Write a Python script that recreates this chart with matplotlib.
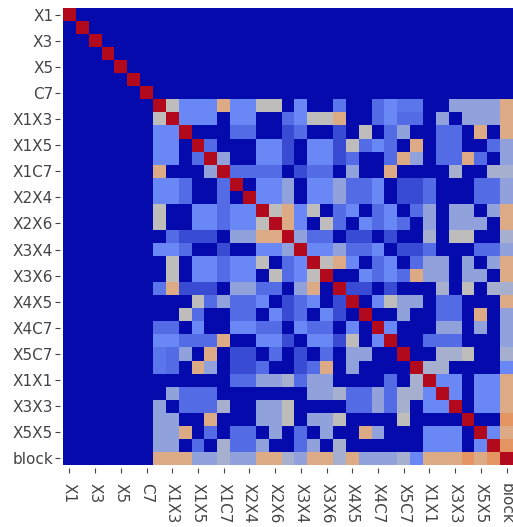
import numpy as np
import matplotlib
matplotlib.use("Agg")
import matplotlib.pyplot as plt
from matplotlib.colors import LinearSegmentedColormap

main_effects = ["X1", "X2", "X3", "X4", "X5", "X6", "C7"]
second_order = [
    "X1X2", "X1X3", "X1X4", "X1X5", "X1X6", "X1C7",
    "X2X3", "X2X4", "X2X5", "X2X6", "X2C7",
    "X3X4", "X3X5", "X3X6", "X3C7",
    "X4X5", "X4X6", "X4C7",
    "X5X6", "X5C7", "X6C7",
    "X1X1", "X2X2", "X3X3", "X4X4", "X5X5", "X6X6",
    "block",
]

# |correlation| between the second-order terms (rows/cols in second_order order)
second_order_corr = [
    [1.00, 0.50, 0.35, 0.35, 0.35, 0.60, 0.35, 0.35, 0.50, 0.50, 0.00, 0.35, 0.00, 0.00, 0.30, 0.00, 0.00, 0.27, 0.35, 0.30, 0.30, 0.00, 0.00, 0.42, 0.42, 0.42, 0.42, 0.60],
    [0.50, 1.00, 0.35, 0.35, 0.35, 0.00, 0.35, 0.35, 0.00, 0.00, 0.27, 0.35, 0.50, 0.50, 0.60, 0.00, 0.00, 0.27, 0.35, 0.27, 0.27, 0.00, 0.42, 0.00, 0.42, 0.42, 0.42, 0.60],
    [0.35, 0.35, 1.00, 0.00, 0.00, 0.00, 0.27, 0.27, 0.00, 0.00, 0.18, 0.27, 0.00, 0.00, 0.18, 0.00, 0.50, 0.00, 0.27, 0.42, 0.00, 0.00, 0.27, 0.27, 0.00, 0.60, 0.00, 0.60],
    [0.35, 0.35, 0.00, 1.00, 0.27, 0.00, 0.00, 0.00, 0.35, 0.35, 0.18, 0.00, 0.35, 0.35, 0.18, 0.50, 0.27, 0.35, 0.27, 0.00, 0.60, 0.00, 0.27, 0.27, 0.00, 0.00, 0.27, 0.42],
    [0.35, 0.35, 0.00, 0.27, 1.00, 0.42, 0.00, 0.00, 0.35, 0.35, 0.18, 0.00, 0.35, 0.35, 0.18, 0.27, 0.00, 0.00, 0.27, 0.60, 0.42, 0.00, 0.27, 0.27, 0.60, 0.27, 0.00, 0.42],
    [0.60, 0.00, 0.00, 0.00, 0.42, 1.00, 0.27, 0.27, 0.27, 0.27, 0.00, 0.18, 0.27, 0.27, 0.00, 0.42, 0.00, 0.00, 0.60, 0.00, 0.00, 0.00, 0.00, 0.46, 0.00, 0.00, 0.46, 0.46],
    [0.35, 0.35, 0.27, 0.00, 0.00, 0.27, 1.00, 0.00, 0.35, 0.35, 0.42, 0.00, 0.35, 0.35, 0.42, 0.27, 0.27, 0.35, 0.00, 0.18, 0.18, 0.27, 0.00, 0.00, 0.00, 0.27, 0.27, 0.42],
    [0.35, 0.35, 0.27, 0.00, 0.00, 0.27, 0.00, 1.00, 0.35, 0.35, 0.42, 0.00, 0.35, 0.35, 0.42, 0.27, 0.27, 0.35, 0.00, 0.18, 0.18, 0.27, 0.00, 0.00, 0.00, 0.27, 0.27, 0.42],
    [0.50, 0.00, 0.00, 0.35, 0.35, 0.27, 0.35, 0.35, 1.00, 0.50, 0.60, 0.35, 0.50, 0.00, 0.27, 0.35, 0.00, 0.27, 0.35, 0.00, 0.27, 0.42, 0.00, 0.42, 0.42, 0.00, 0.42, 0.60],
    [0.50, 0.00, 0.00, 0.35, 0.35, 0.27, 0.35, 0.35, 0.50, 1.00, 0.60, 0.35, 0.00, 0.50, 0.27, 0.00, 0.35, 0.27, 0.35, 0.27, 0.00, 0.42, 0.00, 0.42, 0.42, 0.42, 0.00, 0.60],
    [0.00, 0.27, 0.18, 0.18, 0.18, 0.00, 0.42, 0.42, 0.60, 0.60, 1.00, 0.42, 0.27, 0.27, 0.00, 0.18, 0.18, 0.00, 0.18, 0.00, 0.00, 0.46, 0.00, 0.50, 0.50, 0.00, 0.00, 0.46],
    [0.35, 0.35, 0.27, 0.00, 0.00, 0.18, 0.00, 0.00, 0.35, 0.35, 0.42, 1.00, 0.35, 0.35, 0.42, 0.27, 0.27, 0.35, 0.00, 0.18, 0.18, 0.27, 0.00, 0.00, 0.00, 0.27, 0.27, 0.42],
    [0.00, 0.50, 0.00, 0.35, 0.35, 0.27, 0.35, 0.35, 0.50, 0.00, 0.27, 0.35, 1.00, 0.50, 0.60, 0.35, 0.00, 0.27, 0.35, 0.00, 0.27, 0.42, 0.42, 0.00, 0.42, 0.00, 0.42, 0.60],
    [0.00, 0.50, 0.00, 0.35, 0.35, 0.27, 0.35, 0.35, 0.00, 0.50, 0.27, 0.35, 0.50, 1.00, 0.00, 0.00, 0.35, 0.27, 0.35, 0.27, 0.60, 0.42, 0.42, 0.00, 0.42, 0.42, 0.00, 0.60],
    [0.30, 0.60, 0.18, 0.18, 0.18, 0.00, 0.42, 0.42, 0.27, 0.27, 0.00, 0.42, 0.60, 0.00, 1.00, 0.18, 0.18, 0.00, 0.18, 0.00, 0.00, 0.00, 0.46, 0.00, 0.50, 0.00, 0.46, 0.46],
    [0.00, 0.00, 0.00, 0.50, 0.27, 0.42, 0.27, 0.27, 0.35, 0.00, 0.18, 0.27, 0.35, 0.00, 0.18, 1.00, 0.00, 0.35, 0.50, 0.42, 0.42, 0.00, 0.27, 0.27, 0.00, 0.00, 0.00, 0.60],
    [0.00, 0.00, 0.50, 0.27, 0.00, 0.00, 0.27, 0.27, 0.00, 0.35, 0.18, 0.27, 0.00, 0.35, 0.18, 0.00, 1.00, 0.00, 0.00, 0.42, 0.00, 0.00, 0.27, 0.27, 0.00, 0.60, 0.00, 0.42],
    [0.27, 0.27, 0.00, 0.35, 0.00, 0.00, 0.35, 0.35, 0.27, 0.27, 0.00, 0.35, 0.27, 0.27, 0.00, 0.35, 0.00, 1.00, 0.35, 0.00, 0.00, 0.00, 0.42, 0.42, 0.00, 0.42, 0.00, 0.42],
    [0.35, 0.35, 0.27, 0.27, 0.27, 0.60, 0.00, 0.00, 0.35, 0.35, 0.18, 0.00, 0.35, 0.35, 0.18, 0.50, 0.00, 0.35, 1.00, 0.00, 0.00, 0.27, 0.27, 0.27, 0.00, 0.00, 0.00, 0.42],
    [0.30, 0.27, 0.42, 0.00, 0.60, 0.00, 0.18, 0.18, 0.00, 0.27, 0.00, 0.18, 0.00, 0.27, 0.00, 0.42, 0.42, 0.00, 0.00, 1.00, 0.00, 0.00, 0.46, 0.46, 0.50, 0.00, 0.00, 0.46],
    [0.30, 0.27, 0.00, 0.60, 0.42, 0.00, 0.18, 0.18, 0.27, 0.00, 0.00, 0.18, 0.27, 0.60, 0.00, 0.42, 0.00, 0.00, 0.00, 0.00, 1.00, 0.46, 0.46, 0.00, 0.00, 0.00, 0.00, 0.35],
    [0.00, 0.00, 0.00, 0.00, 0.00, 0.00, 0.27, 0.27, 0.42, 0.42, 0.46, 0.27, 0.42, 0.42, 0.00, 0.00, 0.00, 0.00, 0.27, 0.00, 0.46, 1.00, 0.35, 0.35, 0.00, 0.35, 0.35, 0.60],
    [0.00, 0.42, 0.27, 0.27, 0.27, 0.00, 0.00, 0.00, 0.00, 0.00, 0.00, 0.00, 0.42, 0.42, 0.46, 0.27, 0.27, 0.42, 0.27, 0.46, 0.46, 0.35, 1.00, 0.35, 0.00, 0.35, 0.35, 0.60],
    [0.42, 0.00, 0.27, 0.27, 0.27, 0.46, 0.00, 0.00, 0.42, 0.42, 0.50, 0.00, 0.00, 0.00, 0.00, 0.27, 0.27, 0.42, 0.27, 0.46, 0.00, 0.35, 0.35, 1.00, 0.00, 0.35, 0.35, 0.60],
    [0.42, 0.42, 0.00, 0.00, 0.60, 0.00, 0.00, 0.00, 0.42, 0.42, 0.50, 0.00, 0.42, 0.42, 0.50, 0.00, 0.00, 0.00, 0.00, 0.50, 0.00, 0.00, 0.00, 0.00, 1.00, 0.00, 0.00, 0.68],
    [0.42, 0.42, 0.60, 0.00, 0.27, 0.00, 0.27, 0.27, 0.00, 0.42, 0.00, 0.27, 0.00, 0.42, 0.00, 0.00, 0.60, 0.42, 0.00, 0.00, 0.00, 0.35, 0.35, 0.35, 0.00, 1.00, 0.35, 0.60],
    [0.42, 0.42, 0.00, 0.27, 0.00, 0.46, 0.27, 0.27, 0.42, 0.00, 0.00, 0.27, 0.42, 0.00, 0.46, 0.00, 0.00, 0.00, 0.00, 0.00, 0.00, 0.35, 0.35, 0.35, 0.00, 0.35, 1.00, 0.68],
    [0.60, 0.60, 0.60, 0.42, 0.42, 0.46, 0.42, 0.42, 0.60, 0.60, 0.46, 0.42, 0.60, 0.60, 0.46, 0.60, 0.42, 0.42, 0.42, 0.46, 0.35, 0.60, 0.60, 0.60, 0.68, 0.60, 0.68, 1.00],
]

# plotly's classic RdBu scale (blue = 0, red = 1)
scale_stops = [0.0, 0.35, 0.5, 0.6, 0.7, 1.0]
scale_colors = ["#050aac", "#6a89f7", "#bebebe", "#dcaa84", "#e6915a", "#b20a1c"]


def build_matrix():
    n_main = len(main_effects)
    n = n_main + len(second_order)
    corr = np.zeros((n, n))
    corr[:n_main, :n_main] = np.eye(n_main)
    corr[n_main:, n_main:] = np.array(second_order_corr)
    return corr


def main():
    names = main_effects + second_order
    corr = build_matrix()
    cmap = LinearSegmentedColormap.from_list("rdbu", list(zip(scale_stops, scale_colors)))

    fig = plt.figure(figsize=(5.13, 5.27), dpi=100)
    ax = fig.add_axes([63 / 513, 62 / 527, 450 / 513, 457 / 527])
    ax.imshow(corr, cmap=cmap, vmin=0, vmax=1, aspect="auto", interpolation="nearest")

    # ticks sit a little off the heatmap, like plotly draws them
    # (set before the labels: moving a spine resets the ticks)
    ax.spines["left"].set_position(("outward", 2.2))
    ax.spines["bottom"].set_position(("outward", 1.8))
    for spine in ax.spines.values():
        spine.set_visible(False)

    ticks = list(range(0, len(names), 2))
    ax.set_xticks(ticks)
    ax.set_xticklabels([names[i] for i in ticks], rotation=-90, ha="center", va="top")
    ax.set_yticks(ticks)
    ax.set_yticklabels([names[i] for i in ticks])

    ax.tick_params(axis="x", length=3.4, pad=7.5, width=0.8, colors="#444444", labelsize=11)
    ax.tick_params(axis="y", length=3.6, pad=1.2, width=0.8, colors="#444444", labelsize=11)

    fig.savefig("out.png", dpi=100)


if __name__ == "__main__":
    main()
